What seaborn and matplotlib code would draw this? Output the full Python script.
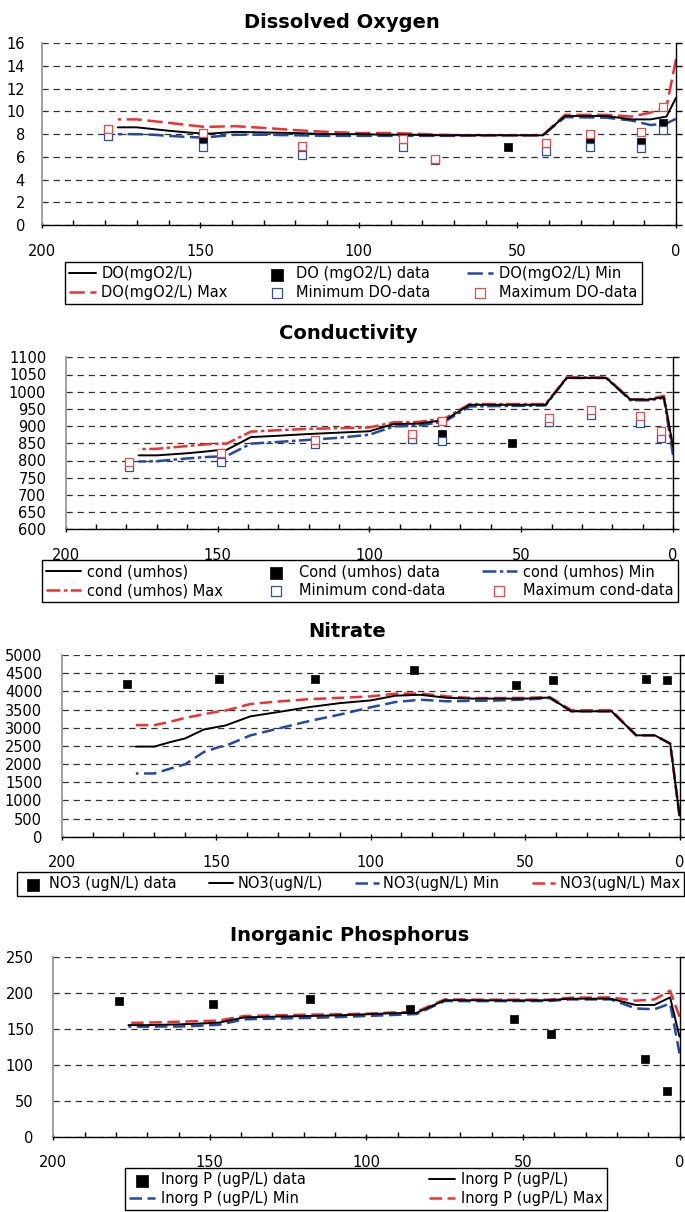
import numpy as np
import matplotlib
matplotlib.use("Agg")
import matplotlib.pyplot as plt
import seaborn as sns

# ---------------------------------------------------------------- data
# model output nodes (distance, km) and simulated profiles
dist = [176, 170, 165, 160, 154, 149, 147, 139, 130, 120, 110, 100, 92, 84,
        75, 67, 60, 50, 42, 35, 22, 14, 8, 3, 0]

do_model = [8.6, 8.6, 8.45, 8.3, 8.15, 8.05, 8.05, 8.2, 8.15, 8.1, 8.0, 8.0, 7.95,
            7.95, 7.9, 7.9, 7.9, 7.9, 7.9, 9.6, 9.6, 9.3, 9.3, 9.55, 11.2]
do_max = [9.3, 9.3, 9.15, 9.0, 8.8, 8.65, 8.65, 8.7, 8.55, 8.35, 8.2, 8.1, 8.1,
          8.05, 7.95, 7.9, 7.9, 7.9, 7.9, 9.7, 9.7, 9.55, 9.9, 10.4, 14.6]
do_min = [8.0, 8.0, 7.95, 7.85, 7.75, 7.7, 7.75, 7.95, 7.95, 7.9, 7.85, 7.85, 7.85,
          7.85, 7.85, 7.85, 7.9, 7.9, 7.9, 9.5, 9.45, 9.2, 8.8, 8.95, 9.35]

cond_model = [815, 815, 818, 821, 826, 831, 831, 868, 872, 877, 881, 885, 906, 907,
              918, 962, 962, 962, 962, 1040, 1040, 977, 977, 984, 840]
cond_max = [833, 834, 838, 842, 847, 849, 849, 884, 888, 892, 894, 896, 911, 912,
            923, 964, 964, 964, 964, 1042, 1042, 978, 978, 988, 836]
cond_min = [797, 798, 802, 806, 810, 812, 813, 849, 854, 860, 866, 875, 899, 901,
            914, 957, 958, 959, 960, 1040, 1040, 975, 975, 982, 816]

no3_model = [2480, 2480, 2600, 2705, 2950, 3030, 3060, 3310, 3430, 3565, 3675, 3750,
             3880, 3905, 3820, 3800, 3800, 3800, 3830, 3450, 3450, 2790, 2790, 2560, 580]
no3_max = [3070, 3070, 3160, 3270, 3370, 3450, 3470, 3650, 3720, 3785, 3820, 3860,
           3935, 3940, 3860, 3815, 3815, 3820, 3845, 3480, 3480, 2790, 2790, 2560, 580]
no3_min = [1740, 1740, 1870, 1995, 2330, 2470, 2500, 2785, 2975, 3180, 3360, 3560,
           3705, 3770, 3725, 3740, 3745, 3775, 3815, 3450, 3450, 2790, 2790, 2560, 580]

ip_model = [155, 155, 155.5, 156, 157, 158, 158.5, 165.7, 166.7, 167.5, 168.5, 170,
            171.5, 172, 189.5, 189.5, 189.3, 189.3, 189.5, 191.7, 191.7, 183, 183, 193.5, 139]
ip_max = [158, 158.5, 159, 159.7, 160.5, 161, 161.5, 167.6, 168.5, 169.4, 170, 170.8,
          172.5, 173.6, 190.7, 190.5, 190.3, 190.3, 190.3, 193, 193.5, 188.9, 190.7, 202.8, 166.7]
ip_min = [152.8, 152.8, 153, 153, 154, 155, 155.5, 163, 164, 164.8, 166, 167.6,
          169, 170.4, 188.4, 188.3, 188.3, 188.4, 188.4, 190.7, 190.7, 178.2, 176.9, 185, 115.7]

# field stations and observations
stations = [179, 149, 118, 86, 76, 53, 41, 27, 11, 4]
stations_range = [179, 149, 118, 86, 76, 41, 27, 11, 4]
do_obs = [8.1, 7.4, 6.5, 7.2, 5.8, 6.85, 6.85, 7.35, 7.35, 8.95]
do_obs_min = [7.85, 6.9, 6.15, 6.85, 5.75, 6.5, 6.9, 6.8, 8.35]
do_obs_max = [8.45, 8.1, 6.95, 7.55, 5.85, 7.2, 8.0, 8.2, 10.4]
cond_obs = [790, 810, 855, 870, 878, 850, 917, 940, 918, 876]
cond_obs_min = [782, 797, 849, 862, 858, 911, 932, 909, 865]
cond_obs_max = [797, 821, 860, 877, 914, 923, 947, 928, 887]

stations_nut = [179, 149, 118, 86, 53, 41, 11, 4]
no3_obs = [4210, 4350, 4350, 4590, 4180, 4320, 4345, 4320]
ip_obs = [189, 184.5, 191.5, 177, 163, 142, 108, 64]

# ---------------------------------------------------------------- style
sns.set_theme(style="white", rc={"text.color": "black", "xtick.color": "black",
                                 "ytick.color": "black", "axes.labelcolor": "black"})
plt.rcParams["font.family"] = ["DejaVu Sans"]
plt.rcParams["lines.scale_dashes"] = False

W, H = 685, 1212
RED = "#EE3030"
BLUE = "#2348A5"
OPEN_RED = "#F04848"
OPEN_BLUE = "#3050A8"
FS = 10.5

fig = plt.figure(figsize=(W / 100, H / 100), dpi=100)


def add_axes(left, right, top, bottom):
    return fig.add_axes([left / W, 1 - bottom / H, (right - left) / W, (bottom - top) / H])


def style_axes(ax, ylim, ystep, ypad):
    ax.set_xlim(200, 0)
    ax.set_ylim(*ylim)
    ax.set_xticks(np.arange(0, 201, 50))
    ax.set_xticks(np.arange(0, 201, 10), minor=True)
    ax.set_yticks(np.arange(ylim[0], ylim[1] + ystep / 2, ystep))
    ax.set_xlabel("")
    ax.set_ylabel("")
    ax.grid(False)
    ax.grid(axis="y", which="major", color="#303030", linewidth=0.9,
            linestyle=(0, (4.5, 3.5)))
    ax.set_axisbelow(True)
    ax.spines["top"].set_visible(False)
    ax.spines["left"].set_color("#9a9a9a")
    ax.spines["left"].set_linewidth(1.3)
    for side in ("bottom", "right"):
        ax.spines[side].set_visible(True)
        ax.spines[side].set_color("black")
        ax.spines[side].set_linewidth(1.0)
    ax.tick_params(axis="x", which="major", direction="inout", length=5, width=1,
                   pad=11, labelsize=FS, bottom=True, top=False)
    ax.tick_params(axis="x", which="minor", direction="in", length=3.5, width=1,
                   bottom=True, top=False)
    ax.tick_params(axis="y", which="major", left=False, right=True, labelleft=True,
                   labelright=False, direction="out", length=4, width=1,
                   pad=ypad, labelsize=FS)
    ax.set_facecolor("white")


def title(text, cx, baseline):
    fig.text(cx / W, 1 - baseline / H, text, ha="center", va="baseline",
             fontsize=14, fontweight="bold")


def legend(ax, order, ncol, x0, x1, top, handlelength, colspace=0.5, textpad=0.4):
    handles, labels = ax.get_legend_handles_labels()
    lookup = dict(zip(labels, handles))
    leg = ax.legend([lookup[k] for k in order], order, ncol=ncol, mode="expand",
                    loc="upper left",
                    bbox_to_anchor=(x0 / W, 1 - (top + 60) / H, (x1 - x0) / W, 60 / H),
                    bbox_transform=fig.transFigure, frameon=True, fancybox=False,
                    edgecolor="black", framealpha=1, fontsize=FS, markerscale=1.3,
                    handlelength=handlelength, handletextpad=textpad, borderpad=0.3,
                    labelspacing=0.25, borderaxespad=0, columnspacing=colspace)
    leg.get_frame().set_linewidth(1.0)
    return leg


def model_lines(ax, y, ymin, ymax, names, dash, lw_dash=1.8):
    sns.lineplot(x=dist, y=y, color="black", linewidth=1.4, label=names[0], ax=ax,
                 zorder=3)
    sns.lineplot(x=dist, y=ymin, color=BLUE, linewidth=lw_dash, linestyle=(0, dash),
                 label=names[1], ax=ax, zorder=2)
    sns.lineplot(x=dist, y=ymax, color=RED, linewidth=lw_dash, linestyle=(0, dash),
                 label=names[2], ax=ax, zorder=2.5)


def obs_points(ax, x, y, name):
    sns.scatterplot(x=x, y=y, marker="s", s=38, color="black", edgecolor="black",
                    linewidth=0.5, label=name, ax=ax, zorder=4)


def range_points(ax, x, y, name, edge):
    sns.scatterplot(x=x, y=y, marker="s", s=36, color="white", edgecolor=edge,
                    linewidth=0.9, label=name, ax=ax, zorder=5)


# ---------------------------------------------------------------- Dissolved Oxygen
ax1 = add_axes(41.7, 676, 43.3, 225)
model_lines(ax1, do_model, do_min, do_max,
            ["DO(mgO2/L)", "DO(mgO2/L) Min", "DO(mgO2/L) Max"], (11, 4))
obs_points(ax1, stations, do_obs, "DO (mgO2/L) data")
range_points(ax1, stations_range, do_obs_min, "Minimum DO-data", OPEN_BLUE)
range_points(ax1, stations_range, do_obs_max, "Maximum DO-data", OPEN_RED)
style_axes(ax1, (0, 16), 2, 8)
title("Dissolved Oxygen", 342, 28.5)
legend(ax1, ["DO(mgO2/L)", "DO(mgO2/L) Max", "DO (mgO2/L) data", "Minimum DO-data",
             "DO(mgO2/L) Min", "Maximum DO-data"], 3, 65, 642, 262, 1.8)

# ---------------------------------------------------------------- Conductivity
ax2 = add_axes(65.7, 673, 357.3, 529.3)
model_lines(ax2, cond_model, cond_min, cond_max,
            ["cond (umhos)", "cond (umhos) Min", "cond (umhos) Max"], (10, 2.5, 2.5, 2.5))
obs_points(ax2, stations, cond_obs, "Cond (umhos) data")
range_points(ax2, stations_range, cond_obs_min, "Minimum cond-data", OPEN_BLUE)
range_points(ax2, stations_range, cond_obs_max, "Maximum cond-data", OPEN_RED)
style_axes(ax2, (600, 1100), 50, 10)
title("Conductivity", 348.5, 339.3)
legend(ax2, ["cond (umhos)", "cond (umhos) Max", "Cond (umhos) data", "Minimum cond-data",
             "cond (umhos) Min", "Maximum cond-data"], 3, 41.5, 677.7, 560, 2.4)

# ---------------------------------------------------------------- Nitrate
ax3 = add_axes(61.7, 679.5, 655, 836.7)
model_lines(ax3, no3_model, no3_min, no3_max,
            ["NO3(ugN/L)", "NO3(ugN/L) Min", "NO3(ugN/L) Max"], (9, 4))
obs_points(ax3, stations_nut, no3_obs, "NO3 (ugN/L) data")
style_axes(ax3, (0, 5000), 500, 10)
title("Nitrate", 347, 636.7)
legend(ax3, ["NO3 (ugN/L) data", "NO3(ugN/L)", "NO3(ugN/L) Min", "NO3(ugN/L) Max"],
       4, 17, 684, 872, 1.6, colspace=0.3, textpad=0.3)

# ---------------------------------------------------------------- Inorganic Phosphorus
ax4 = add_axes(53.3, 679.5, 956.7, 1136.7)
model_lines(ax4, ip_model, ip_min, ip_max,
            ["Inorg P (ugP/L)", "Inorg P (ugP/L) Min", "Inorg P (ugP/L) Max"], (9, 4))
obs_points(ax4, stations_nut, ip_obs, "Inorg P (ugP/L) data")
style_axes(ax4, (0, 250), 50, 10)
title("Inorganic Phosphorus", 350, 940.7)
legend(ax4, ["Inorg P (ugP/L) data", "Inorg P (ugP/L) Min", "Inorg P (ugP/L)",
             "Inorg P (ugP/L) Max"], 2, 124.5, 607, 1168, 1.8)

fig.savefig("out.png", dpi=100, facecolor="white")
